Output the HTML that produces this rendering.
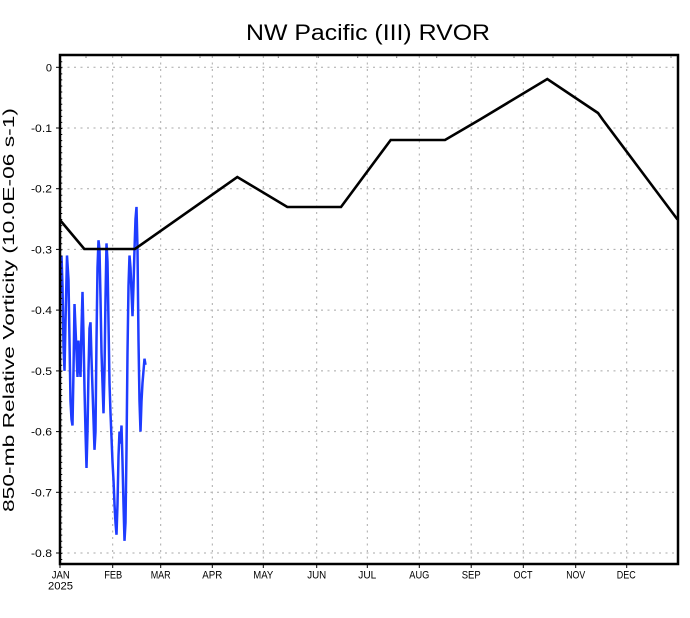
<!DOCTYPE html>
<html>
<head>
<meta charset="utf-8">
<style>
html,body{margin:0;padding:0;background:#fff;}
svg{display:block;}
text{font-family:"Liberation Sans",sans-serif;fill:#000;}
</style>
</head>
<body>
<svg width="690" height="618" viewBox="0 0 690 618" xmlns="http://www.w3.org/2000/svg">
<rect x="0" y="0" width="690" height="618" fill="#fff"/>

<!-- title -->
<text x="368" y="40" font-size="22" text-anchor="middle" textLength="244" lengthAdjust="spacingAndGlyphs">NW Pacific (III) RVOR</text>

<!-- y axis title -->
<text transform="translate(14,310) rotate(-90)" font-size="16" text-anchor="middle" textLength="404" lengthAdjust="spacingAndGlyphs">850-mb Relative Vorticity (10.0E-06 s-1)</text>

<!-- gridlines -->
<g stroke="#a8a8a8" stroke-width="1" stroke-dasharray="2 4.5" fill="none">
<line x1="61" y1="67.3" x2="677" y2="67.3"/>
<line x1="61" y1="128.0" x2="677" y2="128.0"/>
<line x1="61" y1="188.7" x2="677" y2="188.7"/>
<line x1="61" y1="249.4" x2="677" y2="249.4"/>
<line x1="61" y1="310.1" x2="677" y2="310.1"/>
<line x1="61" y1="370.9" x2="677" y2="370.9"/>
<line x1="61" y1="431.6" x2="677" y2="431.6"/>
<line x1="61" y1="492.3" x2="677" y2="492.3"/>
<line x1="61" y1="553.0" x2="677" y2="553.0"/>
<line x1="112.7" y1="56" x2="112.7" y2="563"/>
<line x1="160.7" y1="56" x2="160.7" y2="563"/>
<line x1="212.3" y1="56" x2="212.3" y2="563"/>
<line x1="263.3" y1="56" x2="263.3" y2="563"/>
<line x1="316.7" y1="56" x2="316.7" y2="563"/>
<line x1="367.3" y1="56" x2="367.3" y2="563"/>
<line x1="419.3" y1="56" x2="419.3" y2="563"/>
<line x1="471.2" y1="56" x2="471.2" y2="563"/>
<line x1="523.3" y1="56" x2="523.3" y2="563"/>
<line x1="575.7" y1="56" x2="575.7" y2="563"/>
<line x1="626.7" y1="56" x2="626.7" y2="563"/>
</g>

<!-- blue series -->
<g transform="translate(0,67.3) scale(1,-607.1)">
<polyline fill="none" stroke="#1e3cff" stroke-width="2.5" vector-effect="non-scaling-stroke" stroke-linejoin="miter" points="
60.5,-0.37 61.5,-0.31 62.5,-0.36 63.5,-0.46 64.5,-0.50 65.5,-0.42 67,-0.31 68.5,-0.35 69.5,-0.45 70.5,-0.55 71.5,-0.58 72.5,-0.59 73.5,-0.50 74.5,-0.39 75.5,-0.43 76.5,-0.47 77.5,-0.51 78.5,-0.45 79.5,-0.49 80.5,-0.51 81.5,-0.43 82.5,-0.37 83.5,-0.44 84.5,-0.53 85.5,-0.60 86.5,-0.66 87.5,-0.60 88.5,-0.50 89.5,-0.43 90.5,-0.42 91.5,-0.48 92.5,-0.53 93.5,-0.58 94.5,-0.63 95.5,-0.60 96.5,-0.45 97.5,-0.33 98.5,-0.285 99.5,-0.30 100.5,-0.38 101.5,-0.47 102.5,-0.52 103.5,-0.57 104.5,-0.50 105.5,-0.38 106.5,-0.29 107.5,-0.32 108.5,-0.42 109.5,-0.52 110.5,-0.57 111.5,-0.61 112.5,-0.65 113.5,-0.68 114.5,-0.72 115.5,-0.75 116.5,-0.77 117.5,-0.72 118.5,-0.64 119.5,-0.60 120.5,-0.62 121.5,-0.59 122.5,-0.65 123.5,-0.72 124.5,-0.78 125.5,-0.75 126.5,-0.63 127.5,-0.47 128.5,-0.36 129.5,-0.31 130.5,-0.33 131.5,-0.37 132.5,-0.41 133.5,-0.36 134.5,-0.30 135.5,-0.25 136.5,-0.23 137.5,-0.30 138.5,-0.45 139.5,-0.55 140.5,-0.60 141.5,-0.55 142.5,-0.52 143.5,-0.50 144.5,-0.48 145.5,-0.49"/>
</g>

<!-- black series -->
<polyline fill="none" stroke="#000" stroke-width="2.6" stroke-linejoin="miter" points="60,220 84.3,249 135,249 237.3,177 287.3,207 341,207 390.7,140 445,140 480,119.5 547.3,79 598,113 603,120 677.5,219.5"/>

<!-- frame -->
<rect x="60" y="55" width="618" height="509" fill="none" stroke="#000" stroke-width="2.5"/>

<!-- y major ticks -->
<g stroke="#000" stroke-width="1">
<line x1="56" y1="67.3" x2="60" y2="67.3"/>
<line x1="56" y1="128.0" x2="60" y2="128.0"/>
<line x1="56" y1="188.7" x2="60" y2="188.7"/>
<line x1="56" y1="249.4" x2="60" y2="249.4"/>
<line x1="56" y1="310.1" x2="60" y2="310.1"/>
<line x1="56" y1="370.9" x2="60" y2="370.9"/>
<line x1="56" y1="431.6" x2="60" y2="431.6"/>
<line x1="56" y1="492.3" x2="60" y2="492.3"/>
<line x1="56" y1="553.0" x2="60" y2="553.0"/>
</g>
<!-- y minor ticks (inward) -->
<line x1="61.5" y1="61.2" x2="61.5" y2="562" stroke="#000" stroke-width="1.5" stroke-dasharray="1 5.07"/>

<!-- x ticks -->
<g stroke="#000" stroke-width="1">
<line x1="60" y1="564" x2="60" y2="568"/>
<line x1="112.7" y1="564" x2="112.7" y2="568"/>
<line x1="160.7" y1="564" x2="160.7" y2="568"/>
<line x1="212.3" y1="564" x2="212.3" y2="568"/>
<line x1="263.3" y1="564" x2="263.3" y2="568"/>
<line x1="316.7" y1="564" x2="316.7" y2="568"/>
<line x1="367.3" y1="564" x2="367.3" y2="568"/>
<line x1="419.3" y1="564" x2="419.3" y2="568"/>
<line x1="471.2" y1="564" x2="471.2" y2="568"/>
<line x1="523.3" y1="564" x2="523.3" y2="568"/>
<line x1="575.7" y1="564" x2="575.7" y2="568"/>
<line x1="626.7" y1="564" x2="626.7" y2="568"/>
</g>
<!-- top minor ticks -->
<g stroke="#777" stroke-width="1">
<line x1="86" y1="56" x2="86" y2="58"/>
<line x1="121.7" y1="56" x2="121.7" y2="58"/>
<line x1="161" y1="56" x2="161" y2="58"/>
<line x1="200" y1="56" x2="200" y2="58"/>
<line x1="239.3" y1="56" x2="239.3" y2="58"/>
<line x1="278.3" y1="56" x2="278.3" y2="58"/>
<line x1="318.3" y1="56" x2="318.3" y2="58"/>
<line x1="357.7" y1="56" x2="357.7" y2="58"/>
<line x1="396.7" y1="56" x2="396.7" y2="58"/>
<line x1="436.7" y1="56" x2="436.7" y2="58"/>
<line x1="475" y1="56" x2="475" y2="58"/>
<line x1="514" y1="56" x2="514" y2="58"/>
<line x1="553" y1="56" x2="553" y2="58"/>
<line x1="593" y1="56" x2="593" y2="58"/>
<line x1="632" y1="56" x2="632" y2="58"/>
<line x1="671" y1="56" x2="671" y2="58"/>
</g>

<!-- y labels -->
<g font-size="11" text-anchor="end">
<text x="52" y="71.3">0</text>
<text x="52" y="132.0" textLength="21" lengthAdjust="spacingAndGlyphs">-0.1</text>
<text x="52" y="192.7" textLength="21" lengthAdjust="spacingAndGlyphs">-0.2</text>
<text x="52" y="253.4" textLength="21" lengthAdjust="spacingAndGlyphs">-0.3</text>
<text x="52" y="314.1" textLength="21" lengthAdjust="spacingAndGlyphs">-0.4</text>
<text x="52" y="374.9" textLength="21" lengthAdjust="spacingAndGlyphs">-0.5</text>
<text x="52" y="435.6" textLength="21" lengthAdjust="spacingAndGlyphs">-0.6</text>
<text x="52" y="496.3" textLength="21" lengthAdjust="spacingAndGlyphs">-0.7</text>
<text x="52" y="557.0" textLength="21" lengthAdjust="spacingAndGlyphs">-0.8</text>
</g>

<!-- x labels -->
<g font-size="11" text-anchor="middle">
<text x="60.8" y="578.5" textLength="18" lengthAdjust="spacingAndGlyphs">JAN</text>
<text x="60.5" y="589.5" textLength="25" lengthAdjust="spacingAndGlyphs">2025</text>
<text x="113.2" y="578.5" textLength="18" lengthAdjust="spacingAndGlyphs">FEB</text>
<text x="160.7" y="578.5" textLength="20" lengthAdjust="spacingAndGlyphs">MAR</text>
<text x="212.3" y="578.5" textLength="20" lengthAdjust="spacingAndGlyphs">APR</text>
<text x="263.3" y="578.5" textLength="20" lengthAdjust="spacingAndGlyphs">MAY</text>
<text x="316.7" y="578.5" textLength="19" lengthAdjust="spacingAndGlyphs">JUN</text>
<text x="367.3" y="578.5" textLength="18" lengthAdjust="spacingAndGlyphs">JUL</text>
<text x="419.3" y="578.5" textLength="20" lengthAdjust="spacingAndGlyphs">AUG</text>
<text x="471.2" y="578.5" textLength="19" lengthAdjust="spacingAndGlyphs">SEP</text>
<text x="523" y="578.5" textLength="19" lengthAdjust="spacingAndGlyphs">OCT</text>
<text x="575.7" y="578.5" textLength="19" lengthAdjust="spacingAndGlyphs">NOV</text>
<text x="626.3" y="578.5" textLength="19" lengthAdjust="spacingAndGlyphs">DEC</text>
</g>
</svg>
</body>
</html>
